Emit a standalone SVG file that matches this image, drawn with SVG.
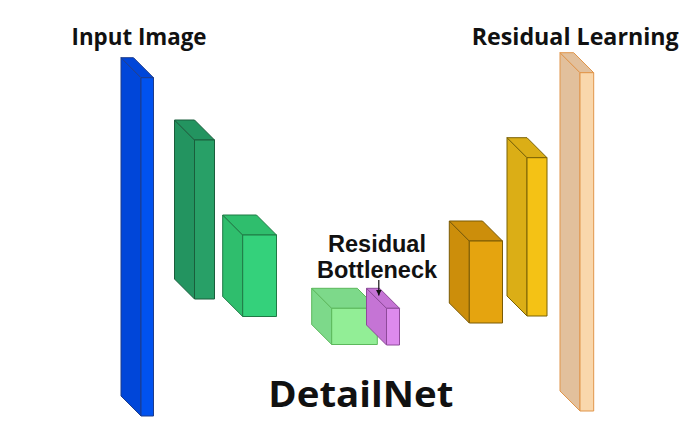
<svg xmlns="http://www.w3.org/2000/svg" width="699" height="447" viewBox="0 0 699 447">
<style>
.lbl{font-family:"Open Sans","Noto Sans","DejaVu Sans",sans-serif;font-weight:bold;fill:#111}
.lbl2{font-family:"Liberation Sans",Arial,sans-serif;font-weight:bold;fill:#111;font-size:23.5px}
polygon,rect{stroke-width:1;stroke-linejoin:round}
.blue .s,.blue .t{fill:#0046d9}.blue .f{fill:#0052f0}.blue *{stroke:#1d3c8c}
.dg .s,.dg .t{fill:#239460}.dg .f{fill:#28a067}.dg *{stroke:#1a5e3c}
.lg .s,.lg .t{fill:#2fbe6d}.lg .f{fill:#34d17b}.lg *{stroke:#1f7a45}
.bg .s,.bg .t{fill:#7dd98a}.bg .f{fill:#92ee96}.bg *{stroke:#5cb85c}
.pk .s,.pk .t{fill:#c574d5}.pk .f{fill:#dd8aed}.pk *{stroke:#8e4a9a}
.or .s,.or .t{fill:#cc8e0b}.or .f{fill:#e5a40f}.or *{stroke:#7a5a05}
.yl .s,.yl .t{fill:#dbae16}.yl .f{fill:#f4c215}.yl *{stroke:#7a6205}
.pc .s,.pc .t{fill:#e2c09c}.pc .f{fill:#f9d7ac}.pc *{stroke:#e0954a}
</style>
<defs>
<marker id="ah" viewBox="0 0 10 10" refX="10" refY="5" markerWidth="6" markerHeight="6" orient="auto" markerUnits="userSpaceOnUse">
<path d="M0,0 L10,5 L0,10 z" fill="#111"/>
</marker>
</defs>
<rect width="699" height="447" fill="#fff"/>

<g id="input-image" class="blue">
<polygon class="s" points="121,57.7 141,77.7 141,416 121,396"/>
<polygon class="t" points="121,57.7 133.5,57.7 153.5,77.7 141,77.7"/>
<rect class="f" x="141" y="77.7" width="12.5" height="338.3"/>
</g>
<g id="enc1" class="dg">
<polygon class="s" points="174.5,120 194.5,140 194.5,299 174.5,279"/>
<polygon class="t" points="174.5,120 194.5,120 214.5,140 194.5,140"/>
<rect class="f" x="194.5" y="140" width="20" height="159"/>
</g>
<g id="enc2" class="lg">
<polygon class="s" points="222.7,215 242.7,235 242.7,316.5 222.7,296.5"/>
<polygon class="t" points="222.7,215 256.5,215 276.5,235 242.7,235"/>
<rect class="f" x="242.7" y="235" width="33.8" height="81.5"/>
</g>
<g id="bottleneck" class="bg">
<polygon class="s" points="311.7,288.3 331.7,308.3 331.7,344.5 311.7,324.5"/>
<polygon class="t" points="311.7,288.3 357.3,288.3 377.3,308.3 331.7,308.3"/>
<rect class="f" x="331.7" y="308.3" width="45.6" height="36.2"/>
</g>
<g id="residual-bottleneck" class="pk">
<polygon class="s" points="366.5,288.3 386.5,308.3 386.5,345 366.5,325"/>
<polygon class="t" points="366.5,288.3 379.5,288.3 399.5,308.3 386.5,308.3"/>
<rect class="f" x="386.5" y="308.3" width="13" height="36.7"/>
</g>
<g id="dec1" class="or">
<polygon class="s" points="449.3,221 469.3,241 469.3,323 449.3,303"/>
<polygon class="t" points="449.3,221 482.5,221 502.5,241 469.3,241"/>
<rect class="f" x="469.3" y="241" width="33.2" height="82"/>
</g>
<g id="dec2" class="yl">
<polygon class="s" points="507,137.7 527,157.7 527,316 507,296"/>
<polygon class="t" points="507,137.7 527,137.7 547,157.7 527,157.7"/>
<rect class="f" x="527" y="157.7" width="20" height="158.3"/>
</g>
<g id="residual-learning" class="pc">
<polygon class="s" points="560,52.7 580,72.7 580,411 560,391"/>
<polygon class="t" points="560,52.7 573.7,52.7 593.7,72.7 580,72.7"/>
<rect class="f" x="580" y="72.7" width="13.7" height="338.3"/>
</g>

<g id="connectors">
<line x1="378.8" y1="280" x2="378.8" y2="295.5" stroke="#111" stroke-width="1.2" marker-end="url(#ah)"/>
</g>

<g id="labels">
<text class="lbl" x="71.5" y="45" font-size="24" textLength="135" lengthAdjust="spacingAndGlyphs">Input Image</text>
<text class="lbl" x="471.7" y="45" font-size="24" textLength="207" lengthAdjust="spacingAndGlyphs">Residual Learning</text>
<text class="lbl" x="268.3" y="406.7" font-size="35" textLength="185" lengthAdjust="spacingAndGlyphs">DetailNet</text>
<text class="lbl2" x="377" y="251.7" text-anchor="middle">Residual</text>
<text class="lbl2" x="377" y="278.3" text-anchor="middle">Bottleneck</text>
</g>
</svg>
